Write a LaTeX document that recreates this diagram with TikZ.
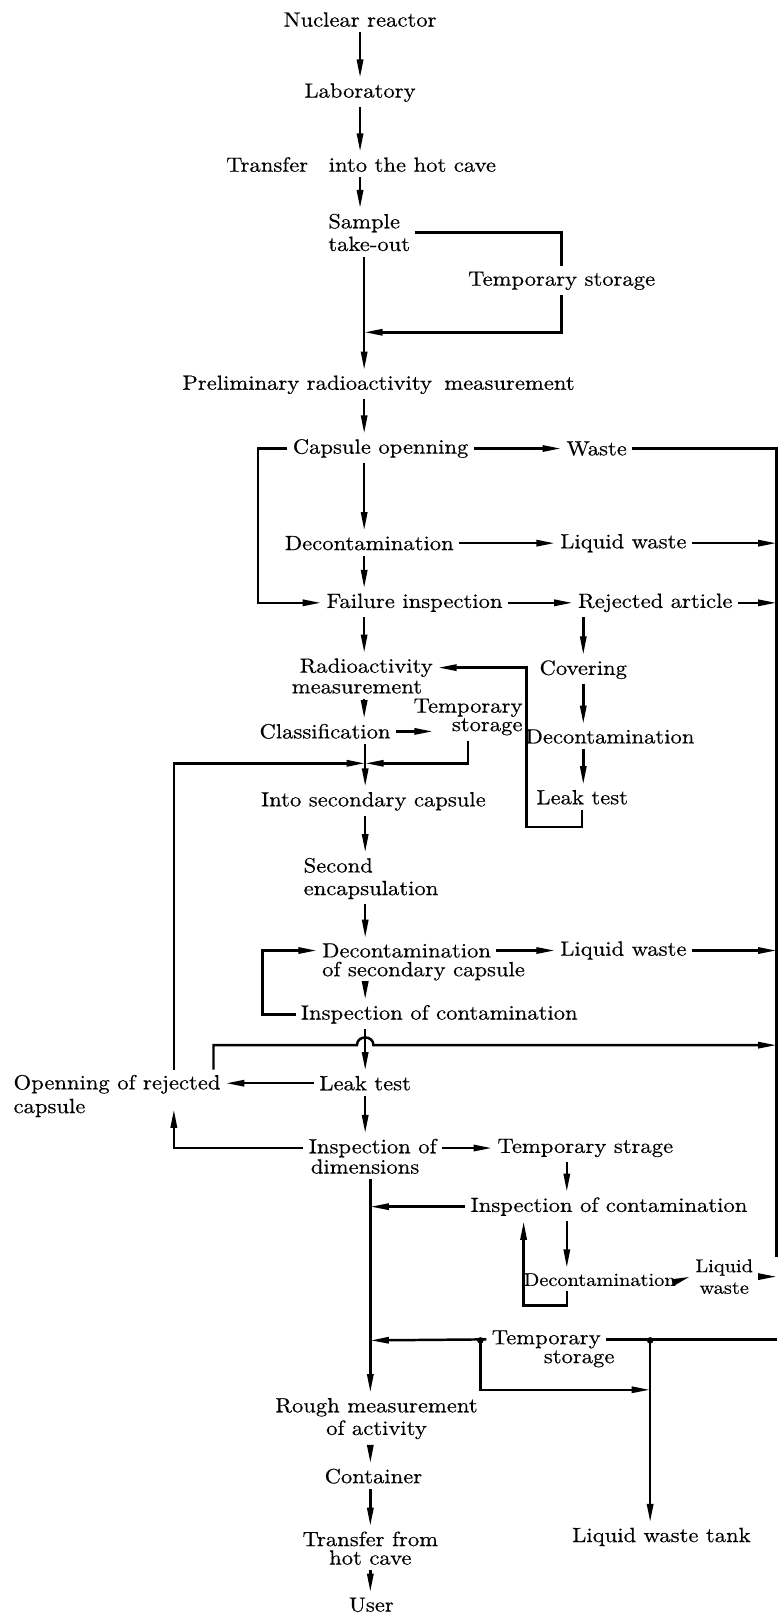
\documentclass[tikz,border=0pt]{standalone}
\usepackage{fontspec}
\setmainfont{lmroman10-regular.otf}[FakeStretch=1.1, FakeBold=0.4]
\usepackage{tikz}
\usetikzlibrary{positioning}
\usetikzlibrary{arrows.meta}

\tikzset{
  lbl/.style={inner sep=2pt, font=\fontsize{10}{11}\selectfont},
  small/.style={inner sep=2pt, font=\fontsize{9}{10.5}\selectfont},
  arr/.style={-{Triangle[length=9pt,width=3pt]}},
}

\begin{document}
\begin{tikzpicture}[x=0.5pt, y=-0.5pt, line width=1.2pt, every node/.style={lbl}]
  \useasboundingbox (0,0) rectangle (757,1568);

  \node (nuclear) at (350,19) {Nuclear reactor};
  \node (lab) at (350,90) {Laboratory};
  \node (transfer) at (351,160) {Transfer\hspace{1em}into the hot cave};
  \node[align=left, anchor=west] (sample) at (314,226) {Sample\\take-out};
  \node (tstore1) at (546,273) {Temporary storage};
  \node (prelim) at (368,374) {Preliminary radioactivity\hspace{0.6em}measurement};
  \node (capsule) at (370,436) {Capsule openning};
  \node (waste) at (580,436) {Waste};
  \node (decon1) at (359,528) {Decontamination};
  \node (liquid1) at (606,528) {Liquid waste};
  \node (failure) at (403,586) {Failure inspection};
  \node (rejected) at (637,586) {Rejected article};
  \node (radio) at (356,649) {Radioactivity};
  \node (radiob) at (347,668) {measurement};
  \node (covering) at (567,651) {Covering};
  \node (decon2) at (593,716) {Decontamination};
  \node (leak1) at (566,775) {Leak test};
  \node (classif) at (316,711) {Classification};
  \node[align=right] (tstore2) at (455,697) {Temporary\\[-2pt]storage};
  \node (intosec) at (363,779) {Into secondary capsule};
  \node[align=left, anchor=west] (secondenc) at (290,854) {Second\\encapsulation};
  \node[anchor=west] (decon3) at (308,924) {Decontamination};
  \node[anchor=west] (decon3b) at (308,944) {of secondary capsule};
  \node (liquid2) at (606,924) {Liquid waste};
  \node (insp1) at (427,986) {Inspection of contamination};
  \node[anchor=west] (openrej) at (8,1054) {Openning of rejected};
  \node[anchor=west] (openrejb) at (8,1077) {capsule};
  \node (leak2) at (355,1053) {Leak test};
  \node[anchor=west] (dims) at (295,1116) {Inspection of};
  \node[anchor=west] (dimsb) at (297,1134) {dimensions};
  \node (ts3) at (569,1116) {Temporary strage};
  \node (insp2) at (592,1173) {Inspection of contamination};
  \node[small] (decon4) at (583,1244) {Decontamination};
  \node[small, align=center] (liquid3) at (704,1241) {Liquid\\waste};
  \node (ts4) at (531,1302) {Temporary};
  \node[inner sep=1pt] (ts4b) at (563,1321) {storage};
  \node (tank) at (643,1494) {Liquid waste tank};
  \node[align=center] (rough) at (366,1379) {Rough measurement\\of activity};
  \node (container) at (363,1435) {Container};
  \node[align=center] (transfer2) at (360,1505) {Transfer from\\[-2pt]hot cave};
  \node (user) at (361,1560) {User};

  \coordinate (j1) at (354,323);
  \coordinate (j2) at (355,742);
  \coordinate (j4) at (360,1303);
  \coordinate (bustop) at (755,436);
  \coordinate (busbot) at (755,1222);
  \coordinate (loopA) at (251,586);
  \coordinate (loopB) at (512,804);
  \coordinate (loopC) at (169,742);
  \coordinate (loopE) at (255,924);
  \coordinate (loopD) at (509,1269);
  \coordinate (hopL) at (347,1016);
  \coordinate (hopR) at (363,1016);
  \coordinate (colB) at (551,1140);
  \coordinate (jd1) at (467,1303);
  \coordinate (jd2) at (632,1303);
  \coordinate (jd3) at (632,1351);

  \draw[arr] (nuclear.south) -- (lab.north);
  \draw[arr] (lab.south) -- (transfer.north -| lab);
  \draw[arr] (transfer.south -| lab) -- (sample.north -| lab);
  \draw (sample.east) -| (tstore1.north);
  \draw[arr] (tstore1.south) |- (j1);
  \draw[arr] (sample.south -| j1) -- (prelim.north -| j1);
  \draw[arr] (prelim.south -| j1) -- (capsule.north -| j1);
  \draw[arr] (capsule.east) -- (waste.west);
  \draw (waste.east) -- (bustop) -- (busbot);
  \draw[arr] (capsule.west) -| (loopA) -- (failure.west);
  \draw[arr] (capsule.south -| j1) -- (decon1.north -| j1);
  \draw[arr] (decon1.east) -- (liquid1.west);
  \draw[arr] (liquid1.east) -- (liquid1.east -| bustop);
  \draw[arr] (decon1.south -| j1) -- (failure.north -| j1);
  \draw[arr] (failure.east) -- (rejected.west);
  \draw[arr] (rejected.east) -- (rejected.east -| bustop);
  \draw[arr] (failure.south -| j1) -- (radio.north -| j1);
  \draw[arr] (rejected.south -| covering) -- (covering.north);
  \draw[arr] (covering.south) -- (decon2.north -| covering);
  \draw[arr] (decon2.south -| covering) -- (leak1.north -| covering);
  \draw[arr] (leak1.south) |- (loopB) |- (radio.east);
  \draw[arr] (radiob.south -| j1) -- (classif.north -| j1);
  \draw[arr] (classif.east) -- ([xshift=12pt]classif.east -| tstore2.west);
  \draw[arr] (tstore2.south) |- (j2);
  \draw[arr] (openrej.north -| loopC) -- (loopC) -- (j2);
  \draw[arr] (classif.south -| j2) -- (intosec.north -| j2);
  \draw[arr] (intosec.south -| j2) -- (secondenc.north -| j2);
  \draw[arr] (secondenc.south -| j2) -- (decon3.north -| j2);
  \draw[arr] (decon3.east) -- (liquid2.west);
  \draw[arr] (liquid2.east) -- (liquid2.east -| bustop);
  \draw[arr] (decon3b.south -| j2) -- (insp1.north -| j2);
  \draw[arr] (insp1.west) -| (loopE) -- (decon3.west);
  \draw[arr] (insp1.south -| j2) -- (leak2.north -| j2);
  \draw[arr] ([xshift=-6pt]openrej.north east) |- (hopL)
    .. controls +(0,-10) and +(0,-10) .. (hopR) -- (hopR -| bustop);
  \draw[arr] (leak2.west) -- (leak2.west -| openrej.east);
  \draw[arr] (leak2.south) -- (leak2.south |- dims.north);
  \draw[arr] (dims.west) -| ([yshift=-5pt]openrej.south -| loopC);
  \draw[arr] (dims.east) -- (ts3.west);
  \draw[arr] (ts3.south -| colB) -- (insp2.north -| colB);
  \draw[arr] (insp2.west) -- (insp2.west -| j4);
  \draw[arr] (insp2.south -| colB) -- (decon4.north -| colB);
  \draw[arr] (decon4.south -| colB) |- (loopD) -- (insp2.south -| loopD);
  \draw[arr] (decon4.east) -- (liquid3.west);
  \draw[arr] (liquid3.east) -- (liquid3.east -| bustop);
  \draw[arr] (dimsb.south -| j4) -- (rough.north -| j4);
  \draw[arr] (ts4.west) -- (j4);
  \draw (ts4.east) -- (ts4.east -| bustop);
  \draw[arr] (jd1) |- (jd3);
  \draw[arr] (jd2) -- (tank.north -| jd2);
  \fill (jd1) circle[radius=1.6pt];
  \fill (jd2) circle[radius=1.6pt];
  \draw[arr] (rough.south -| j4) -- (container.north -| j4);
  \draw[arr] (container.south -| j4) -- (transfer2.north -| j4);
  \draw[arr] (transfer2.south -| j4) -- (user.north -| j4);
\end{tikzpicture}
\end{document}
